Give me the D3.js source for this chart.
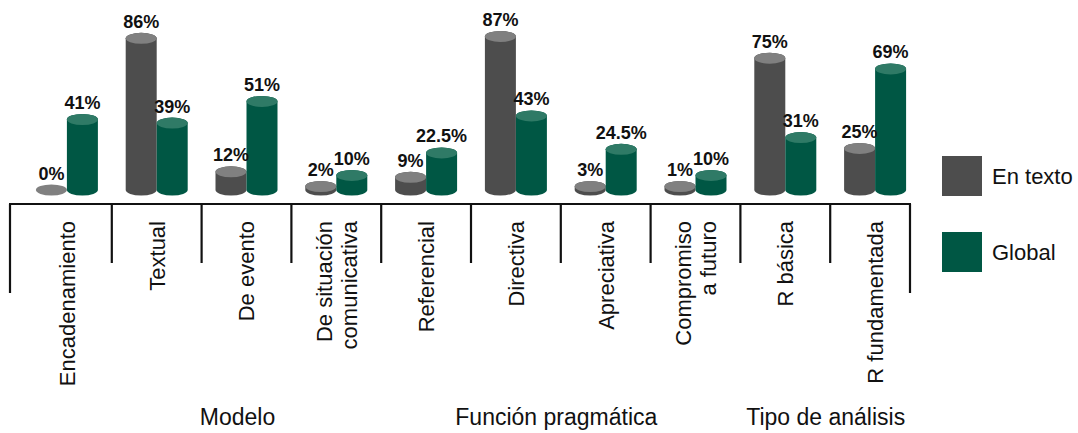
<!DOCTYPE html>
<html>
<head>
<meta charset="utf-8">
<script src="https://cdn.jsdelivr.net/npm/d3@7"></script>
<style>
  html, body { margin: 0; padding: 0; background: #ffffff; }
  svg { display: block; }
  text { font-family: "Liberation Sans", Arial, sans-serif; fill: #111; }
</style>
</head>
<body>
<svg id="chart" width="1078" height="433"></svg>
<script>
// ---------- data ----------
const categories = ["Encadenamiento", "Textual", "De evento", "De situación\ncomunicativa",
  "Referencial", "Directiva", "Apreciativa", "Compromiso\na futuro", "R básica", "R fundamentada"];
const enTexto = [0, 86, 12, 2, 9, 87, 3, 1, 75, 25];
const global = [41, 39, 51, 10, 22.5, 43, 24.5, 10, 31, 69];
const enTextoLabels = ["0%", "86%", "12%", "2%", "9%", "87%", "3%", "1%", "75%", "25%"];
const globalLabels = ["41%", "39%", "51%", "10%", "22.5%", "43%", "24.5%", "10%", "31%", "69%"];
const seriesNames = ["En texto", "Global"];
const groupNames = ["Modelo", "Función pragmática", "Tipo de análisis"];

// ---------- layout ----------
const svg = d3.select("#chart");
const baseY = 190;        // centre of the cylinders' bottom ellipse
const axisY = 204;
const rx = 15.5, ry = 5.5;
const colors = {
  "En texto": { body: "#4d4d4d", top: "#808080" },
  "Global": { body: "#005744", top: "#2f7a66" }
};

const x = d3.scaleBand().domain(categories).range([22, 920]).paddingInner(0).paddingOuter(0);
const xs = d3.scaleBand().domain(seriesNames).range([-2 * rx, 2 * rx]);
const y = d3.scaleLinear().domain([0, 100]).range([193.5, 13]);

const rows = [];
categories.forEach((c, i) => {
  rows.push({ cat: c, series: "En texto", value: enTexto[i], label: enTextoLabels[i] });
  rows.push({ cat: c, series: "Global", value: global[i], label: globalLabels[i] });
});

function cx(d) {
  return x(d.cat) + x.bandwidth() / 2 + xs(d.series) + xs.bandwidth() / 2;
}
function topY(d) {
  if (d.value === 0) return baseY;
  return Math.min(y(d.value), baseY - 3.5);
}

const bars = svg.append("g");
const g = bars.selectAll("g.cyl").data(rows).join("g").attr("class", "cyl");

g.filter(d => d.value > 0).append("path")
  .attr("d", d => {
    const c = cx(d), t = topY(d);
    return `M${c - rx},${t} L${c - rx},${baseY} A${rx},${ry} 0 0 0 ${c + rx},${baseY} L${c + rx},${t} A${rx},${ry} 0 0 0 ${c - rx},${t} Z`;
  })
  .attr("fill", d => colors[d.series].body);

g.append("ellipse")
  .attr("cx", d => cx(d))
  .attr("cy", d => topY(d))
  .attr("rx", rx).attr("ry", ry)
  .attr("fill", d => colors[d.series].top);

svg.append("g").selectAll("text").data(rows).join("text")
  .attr("x", d => cx(d))
  .attr("y", d => topY(d) - 10.5)
  .attr("text-anchor", "middle")
  .style("font-size", "18px")
  .style("font-weight", "bold")
  .text(d => d.label);

// ---------- axis frame ----------
const axis = svg.append("g").attr("stroke", "#111").attr("stroke-width", 2.2).attr("fill", "none");
axis.append("line").attr("x1", 9).attr("x2", 911).attr("y1", axisY).attr("y2", axisY);
axis.append("line").attr("x1", 10).attr("x2", 10).attr("y1", axisY).attr("y2", 293);
axis.append("line").attr("x1", 910).attr("x2", 910).attr("y1", axisY).attr("y2", 293);
axis.selectAll("line.tick").data(categories.slice(1)).join("line")
  .attr("class", "tick")
  .attr("x1", d => x(d)).attr("x2", d => x(d))
  .attr("y1", axisY).attr("y2", 263);

// ---------- category labels ----------
const catLabels = svg.append("g").selectAll("text").data(categories).join("text")
  .attr("transform", d => `translate(${x(d) + x.bandwidth() / 2},221) rotate(-90)`)
  .attr("text-anchor", "end")
  .style("font-size", "22px");
catLabels.each(function (d) {
  const lines = d.split("\n");
  const n = lines.length;
  d3.select(this).selectAll("tspan").data(lines).join("tspan")
    .attr("x", 0)
    .attr("y", (l, i) => (i - (n - 1) / 2) * 25)
    .attr("dy", "0.36em")
    .text(l => l);
});

// ---------- group labels ----------
const groupAnchor = [1.9, 5.45, 8.45];
svg.append("g").selectAll("text").data(groupNames).join("text")
  .attr("x", (d, i) => x.range()[0] + x.step() * (groupAnchor[i] + 0.5))
  .attr("y", 425)
  .attr("text-anchor", "middle")
  .style("font-size", "23px")
  .text(d => d);

// ---------- legend ----------
const legend = svg.append("g").selectAll("g").data(seriesNames).join("g")
  .attr("transform", (d, i) => `translate(942,${156 + i * 76})`);
legend.append("rect").attr("width", 40).attr("height", 40).attr("fill", d => colors[d].body);
legend.append("text").attr("x", 50).attr("y", 20).attr("dy", "0.36em")
  .style("font-size", "22px").text(d => d);
</script>
</body>
</html>
